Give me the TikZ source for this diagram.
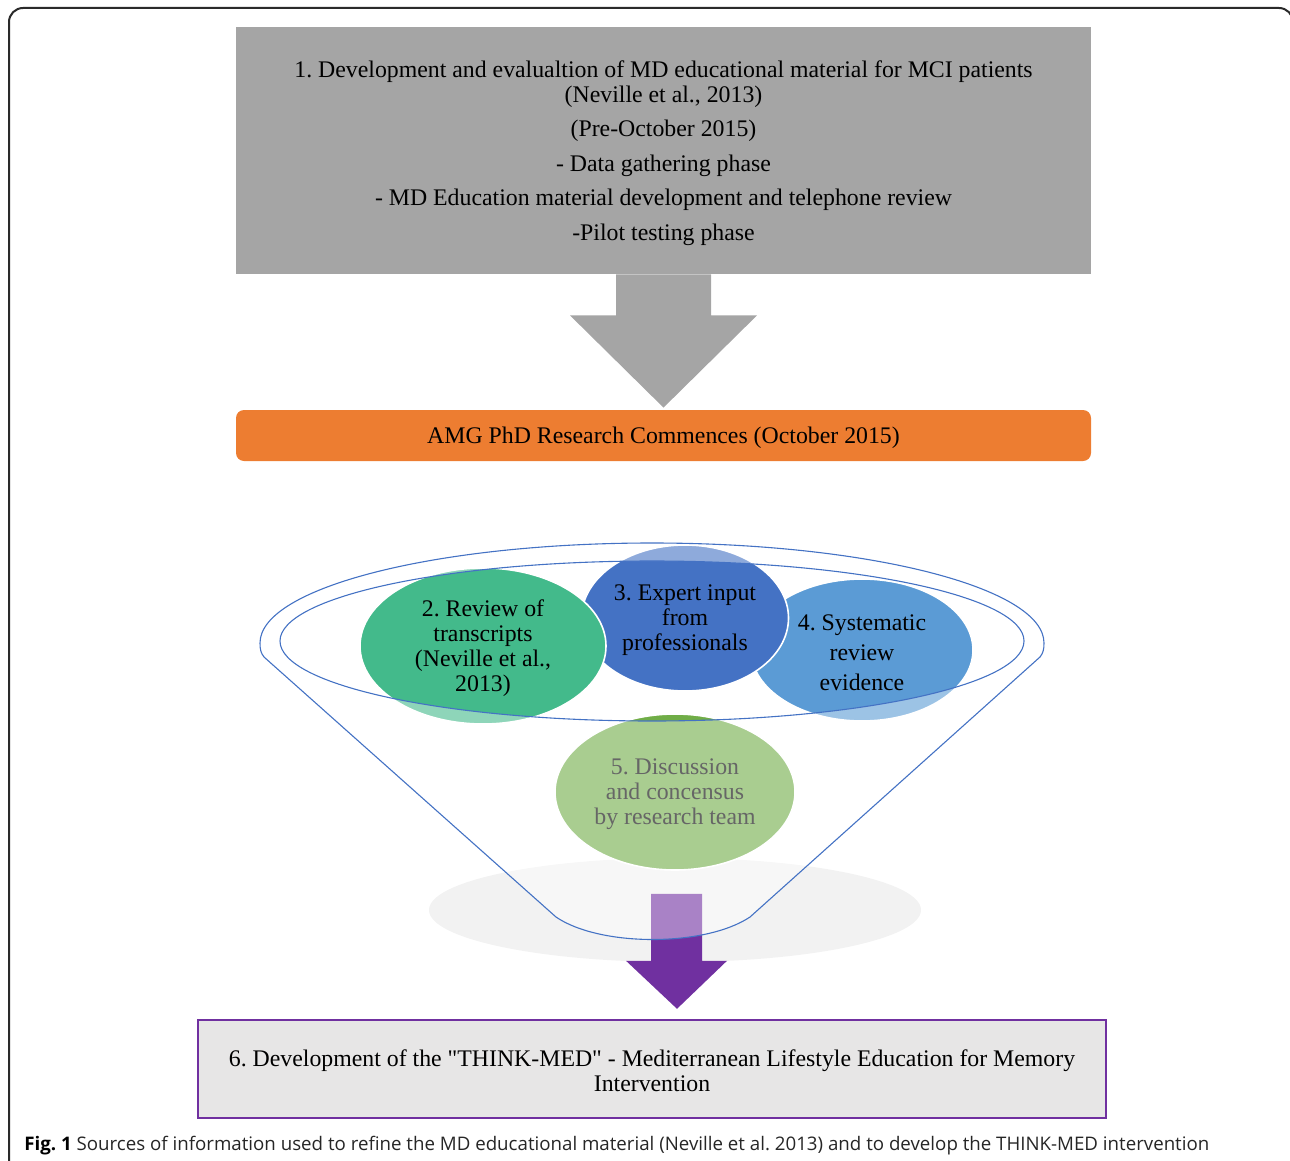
\documentclass[tikz,border=0pt]{standalone}
\usepackage{fontspec}
\setmainfont{Liberation Serif}
\newfontfamily\capfont{Open Sans}
\usetikzlibrary{shapes.geometric,calc}

\definecolor{boxgray}{HTML}{A5A5A5}
\definecolor{amgorange}{HTML}{ED7D31}
\definecolor{teal2}{HTML}{43BA8B}
\definecolor{blue3}{HTML}{4472C4}
\definecolor{blue4}{HTML}{5B9BD5}
\definecolor{green5}{HTML}{70AD47}
\definecolor{funnelline}{HTML}{4472C4}
\definecolor{shadowgray}{HTML}{F2F2F2}
\definecolor{medpurple}{HTML}{7030A0}
\definecolor{finalfill}{HTML}{E7E6E6}
\definecolor{framecol}{HTML}{2A2A2A}
\definecolor{captext}{HTML}{262626}

\newcommand\bodysize{\fontsize{11.9pt}{12.5pt}\selectfont}
\frenchspacing

\tikzset{
  stagebox/.style={inner sep=0pt},
  topic/.style={ellipse, inner sep=0pt, draw=white, line width=0.8pt},
  words/.style={inner sep=0pt, align=center, font=\bodysize, text=black},
}

\begin{document}
\begin{tikzpicture}[x=0.5pt, y=-0.5pt]
\useasboundingbox (0,0) rectangle (1290,1161);
\clip (0,0) rectangle (1290,1161);

% figure frame
\draw[framecol, line width=1pt, rounded corners=7pt] (9,8) rectangle (1293,1180);

% stage 1
\node[stagebox, fill=boxgray, minimum width=427.5pt, minimum height=123.5pt]
  (phase1) at (663.5,150.5) {};
\node[words] (phase1txt) at ($(phase1)+(0,2.5)$)
  {1. Development and evalualtion of MD educational material for MCI patients\\
   (Neville et al., 2013)\\[4.75pt]
   (Pre-October 2015)\\[4.75pt]
   - Data gathering phase\\[4.75pt]
   - MD Education material development and telephone review\\[4.75pt]
   -Pilot testing phase};

% PhD start bar
\node[stagebox, fill=amgorange, rounded corners=4pt, minimum width=427.5pt,
  minimum height=25.5pt] (amg) at (663.5,435.5) {};
\node[words] (amgtxt) at ($(amg)+(0,2.5)$)
  {AMG PhD Research Commences (October 2015)};

% block arrow from stage 1 down to the bar
\fill[boxgray] ($(phase1.south)+(-47.5,0)$) -- ($(phase1.south)+(47.5,0)$)
  -- ($(phase1.south)+(47.5,41)$) -- ($(phase1.south)+(93.5,41)$)
  -- ($(amg.north)+(0,-2)$)
  -- ($(phase1.south)+(-93.5,41)$) -- ($(phase1.south)+(-47.5,41)$) -- cycle;

% floor shadow under the funnel
\fill[shadowgray] (675,910) ellipse [x radius=246, y radius=52];

% information sources
\node[topic, fill=blue4, minimum width=111pt, minimum height=71pt] (c4) at (862,650) {};
\node[words] (c4txt) at ($(c4)+(0,2.5)$)
  {4. Systematic\\[2.4pt] review\\[2.4pt] evidence};
\node[topic, fill=blue3, minimum width=103.5pt, minimum height=73pt] (c3) at (685,618) {};
\node[words] (c3txt) at ($(c3)+(0,2.5)$)
  {3. Expert input\\ from\\ professionals};
\node[topic, fill=teal2, minimum width=123pt, minimum height=78pt] (c2) at (483,646) {};
\node[words] (c2txt) at ($(c2)+(0,2.5)$)
  {2. Review of\\ transcripts\\ (Neville et al.,\\ 2013)};
\node[topic, fill=green5, minimum width=120pt, minimum height=78pt] (c5) at (675,792) {};
\node[words] (c5txt) at ($(c5)+(0,2.5)$)
  {5. Discussion\\ and concensus\\ by research team};

% output arrow
\coordinate (ptip) at ($(c5.south)+(2,138)$);
\fill[medpurple] ($(c5.south)+(-24,23)$) -- ($(c5.south)+(27,23)$)
  -- ($(c5.south)+(27,90)$) -- ($(c5.south)+(52,90)$) -- (ptip)
  -- ($(c5.south)+(-49,90)$) -- ($(c5.south)+(-24,90)$) -- cycle;

% funnel body: translucent veil outside the rim band
\fill[white, fill opacity=0.4, even odd rule]
  (260,643) arc[start angle=180, end angle=360, x radius=392, y radius=100]
  .. controls (1044,650) and (1043,653) .. (1040,657) -- (750,917)
  .. controls (705,947) and (600,947) .. (556,917) -- (264,657)
  .. controls (261,653) and (260,650) .. (260,643) -- cycle
  (652,641) ellipse [x radius=372, y radius=80];

% funnel outlines
\draw[funnelline, line width=0.55pt]
  (260,643) arc[start angle=180, end angle=360, x radius=392, y radius=100]
  .. controls (1044,650) and (1043,653) .. (1040,657) -- (750,917)
  .. controls (705,947) and (600,947) .. (556,917) -- (264,657)
  .. controls (261,653) and (260,650) .. (260,643) -- cycle;
\draw[funnelline, line width=0.55pt] (652,641) ellipse [x radius=372, y radius=80];

% outcome
\node[stagebox, fill=finalfill, draw=medpurple, line width=0.8pt,
  minimum width=454pt, minimum height=49pt] (final) at (652,1069) {};
\node[words] (finaltxt) at ($(final)+(0,1.5)$)
  {6. Development of the \textquotedbl THINK-MED\textquotedbl{} - Mediterranean Lifestyle Education for Memory\\
   Intervention};

% caption
\node[anchor=west, inner sep=0pt, font=\capfont\fontsize{9.35pt}{11pt}\selectfont,
  text=captext] (caption) at (24,1146)
  {\textbf{\color{black}Fig. 1} Sources of information used to refine the MD educational
   material (Neville et al. 2013) and to develop the THINK-MED intervention};
\end{tikzpicture}
\end{document}
